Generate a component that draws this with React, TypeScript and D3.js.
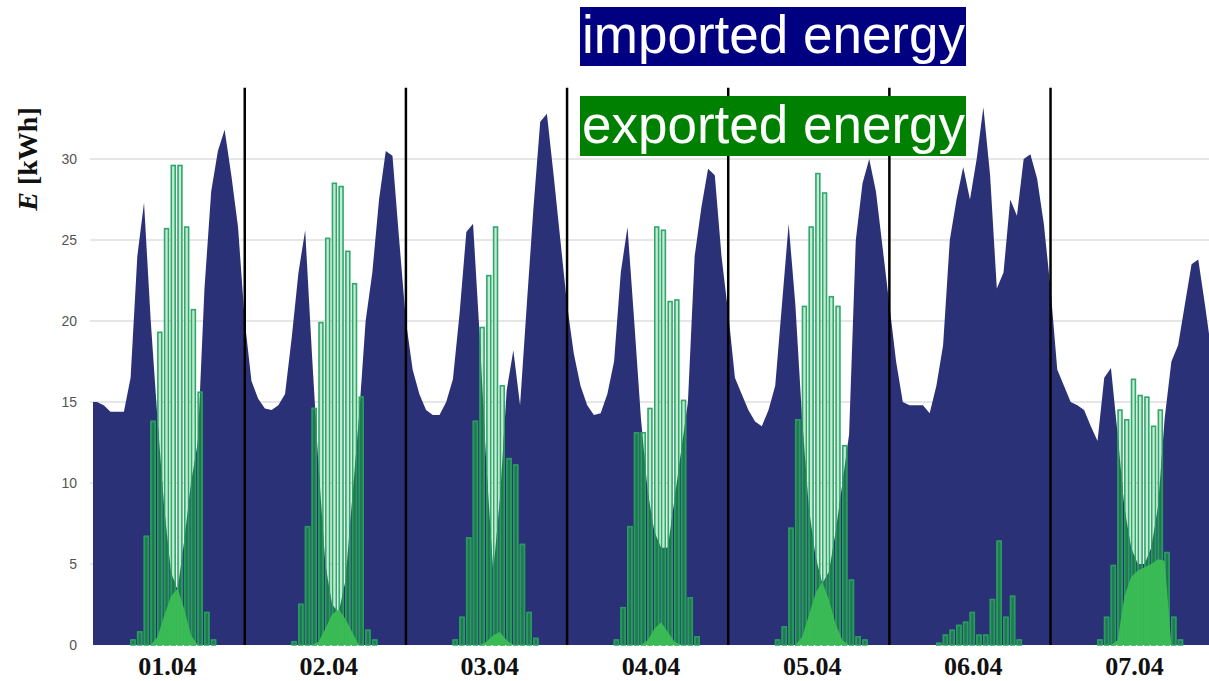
import React from 'react';
import * as d3 from 'd3';

const W = 1209;
const H = 681;

const dayLabels = ['01.04', '02.04', '03.04', '04.04', '05.04', '06.04', '07.04'];

// imported energy [kWh], hours 1..24 of each day
const imp01 = [15.0, 15.0, 14.8, 14.4, 14.4, 14.4, 16.5, 24.0, 27.3, 20.0, 14.0, 8.5, 4.5, 3.4, 6.5, 10.0, 12.5, 22.0, 28.0, 30.5, 31.8, 29.0, 25.8, 20.0];
const imp02 = [16.3, 15.2, 14.6, 14.5, 14.8, 15.5, 19.0, 23.0, 25.6, 18.0, 11.0, 5.0, 2.5, 2.0, 4.0, 9.0, 14.0, 20.0, 23.0, 27.5, 30.5, 30.2, 25.0, 20.0];
const imp03 = [17.0, 15.5, 14.5, 14.2, 14.2, 15.0, 16.4, 20.5, 25.5, 26.0, 19.0, 11.0, 4.5, 9.0, 15.7, 18.2, 14.8, 21.0, 27.0, 32.3, 32.8, 29.0, 25.0, 21.0];
const imp04 = [18.0, 16.0, 14.8, 14.2, 14.3, 15.5, 17.5, 23.0, 25.8, 20.0, 14.0, 9.5, 7.0, 6.0, 6.0, 9.0, 12.0, 15.0, 24.0, 27.0, 29.4, 29.0, 24.0, 20.5];
const imp05 = [16.5, 15.5, 14.5, 13.8, 13.5, 14.5, 16.0, 21.0, 26.0, 21.0, 14.0, 8.5, 5.5, 3.8, 4.5, 7.0, 10.0, 13.0, 25.0, 28.5, 30.0, 28.0, 24.5, 21.0];
const imp06 = [17.5, 15.0, 14.8, 14.8, 14.8, 14.3, 16.0, 18.5, 25.0, 27.5, 29.5, 27.5, 30.0, 33.2, 29.0, 22.0, 23.0, 27.5, 26.5, 30.0, 30.3, 28.8, 26.0, 22.0];
const imp07 = [17.0, 16.0, 15.0, 14.8, 14.5, 13.5, 12.6, 16.5, 17.1, 13.0, 8.5, 6.0, 5.0, 5.0, 6.0, 8.5, 14.0, 17.5, 18.5, 21.0, 23.5, 23.8, 21.0, 18.0];
const importedDays = [imp01, imp02, imp03, imp04, imp05, imp06, imp07];

// exported energy [kWh], hours 7..20 of each day
const exportStart = 7;
const exp01 = [0.3, 0.8, 6.7, 13.8, 19.3, 25.7, 29.6, 29.6, 25.8, 20.7, 15.6, 2.0, 0.3, 0];
const exp02 = [0.2, 2.5, 7.3, 14.6, 19.9, 25.1, 28.5, 28.3, 24.3, 22.3, 15.3, 0.9, 0.3, 0];
const exp03 = [0.3, 1.7, 6.6, 13.8, 19.6, 22.8, 25.8, 16.0, 11.5, 11.1, 6.2, 2.0, 0.4, 0];
const exp04 = [0.3, 2.3, 7.3, 13.1, 13.1, 14.6, 25.8, 25.6, 21.2, 21.3, 15.1, 2.9, 0.5, 0];
const exp05 = [0.3, 1.1, 7.2, 13.9, 20.9, 25.8, 29.1, 27.9, 21.5, 20.9, 12.3, 4.0, 0.5, 0.3];
const exp06 = [0.1, 0.6, 0.9, 1.2, 1.4, 2.0, 0.6, 0.6, 2.8, 6.4, 1.7, 3.0, 0.3, 0];
const exp07 = [0.3, 1.7, 4.9, 14.5, 13.9, 16.4, 15.4, 15.3, 13.5, 14.5, 5.7, 1.7, 0.3, 0];
const exportDays = [exp01, exp02, exp03, exp04, exp05, exp06, exp07];

// self-consumed PV energy [kWh], hours 9..18 of each day
const selfStart = 9;
const self01 = [0, 0, 0.5, 1.8, 3.0, 3.5, 2.2, 0.6, 0, 0];
const self02 = [0, 0, 0.2, 1.0, 1.9, 2.2, 1.6, 0.8, 0, 0];
const self03 = [0, 0, 0, 0.2, 0.6, 0.8, 0.3, 0, 0, 0];
const self04 = [0, 0, 0, 0.3, 1.0, 1.4, 0.8, 0.2, 0, 0];
const self05 = [0, 0, 0.5, 1.8, 3.2, 3.9, 2.8, 1.3, 0.3, 0];
const self06 = [0, 0, 0, 0, 0, 0, 0, 0, 0, 0];
const self07 = [0, 0.3, 3.0, 4.2, 4.6, 4.8, 5.0, 5.3, 5.2, 0];
const selfDays = [self01, self02, self03, self04, self05, self06, self07];

const yTicks = [0, 5, 10, 15, 20, 25, 30];
const dayBreaks = [24, 48, 72, 96, 120, 144];

type Pt = { h: number; v: number };

const imported: Pt[] = importedDays.flatMap((day, d) => day.map((v, i) => ({ h: d * 24 + i + 1, v })));
const exported: Pt[] = exportDays
  .flatMap((day, d) => day.map((v, i) => ({ h: d * 24 + exportStart + i, v })))
  .filter(p => p.v > 0);
const selfUsed: Pt[][] = selfDays.map((day, d) => day.map((v, i) => ({ h: d * 24 + selfStart + i, v })));

export default function App() {
  const x = d3.scaleLinear().domain([1.4, 167.6]).range([93, W]);
  const y = d3.scaleLinear().domain([0, 30]).range([645, 159]);
  const yTop = 34.4;

  const area = d3.area<Pt>()
    .x(d => x(d.h))
    .y0(y(0))
    .y1(d => y(d.v));

  const step = x(1) - x(0);
  const barW = step * 0.58;
  const barShift = 0.35; // bars sit a bit right of the hour mark

  const bars = (fill: string, stroke: string) =>
    exported.map((p, i) => (
      <rect
        key={i}
        x={x(p.h + barShift) - barW / 2}
        y={y(p.v)}
        width={barW}
        height={y(0) - y(p.v)}
        fill={fill}
        stroke={stroke}
        strokeWidth={1.6}
      />
    ));

  const importedPath = area(imported) || '';

  return (
    <div style={{ position: 'fixed', left: 0, top: 0, width: W, height: H, background: '#fff' }}>
      <svg width={W} height={H} style={{ display: 'block' }}>
        <defs>
          <clipPath id="plot">
            <rect x={x(1.4)} y={0} width={W - x(1.4)} height={y(0) + 1} />
          </clipPath>
          <clipPath id="navy">
            <path d={importedPath} />
          </clipPath>
        </defs>

        {/* grid */}
        {yTicks.filter(t => t > 0).map(t => (
          <line key={t} x1={x(1.4) - 3} x2={W} y1={y(t)} y2={y(t)} stroke="#e6e6e6" strokeWidth={2} />
        ))}

        {/* y tick labels */}
        {yTicks.map(t => (
          <text
            key={t}
            x={77}
            y={y(t)}
            dy="0.35em"
            textAnchor="end"
            fontFamily="'Liberation Sans', Arial, sans-serif"
            fontSize={14}
            fill="#555"
          >
            {t}
          </text>
        ))}

        <g clipPath="url(#plot)">
          {/* imported energy */}
          <path d={importedPath} fill="#2b3177" />

          {/* exported energy bars, pale above the import area */}
          <g>{bars('#c3ead3', '#2fa86a')}</g>
          {/* same bars, dark where they overlap the import area */}
          <g clipPath="url(#navy)">{bars('#1d7a4e', '#2a9a60')}</g>

          {/* self-consumed */}
          {selfUsed.map((s, i) => (
            <path key={i} d={area(s) || ''} fill="#3cbf55" fillOpacity={0.92} />
          ))}
        </g>

        {/* day separators */}
        {dayBreaks.map(h => (
          <line key={h} x1={x(h)} x2={x(h)} y1={y(yTop)} y2={y(0)} stroke="#000" strokeWidth={2.5} />
        ))}

        {/* day labels */}
        {dayLabels.map((lab, i) => (
          <text
            key={lab}
            x={x(i * 24 + 12.5)}
            y={675}
            textAnchor="middle"
            fontFamily="'Liberation Serif', 'Times New Roman', serif"
            fontWeight="bold"
            fontSize={26}
            fill="#111"
          >
            {lab}
          </text>
        ))}

        {/* y axis title */}
        <text
          transform={`translate(37, ${y(30)}) rotate(-90)`}
          textAnchor="middle"
          fontFamily="'Liberation Serif', 'Times New Roman', serif"
          fontWeight="bold"
          fontSize={28}
          fill="#111"
        >
          <tspan fontStyle="italic">E</tspan> [kWh]
        </text>

        {/* legend */}
        <rect x={580} y={7} width={386} height={59} fill="#000080" />
        <text x={582} y={53} fontFamily="'Liberation Sans', Arial, sans-serif" fontSize={53} fill="#fff">
          imported energy
        </text>
        <rect x={580} y={96} width={386} height={60} fill="#008000" />
        <text x={582} y={143} fontFamily="'Liberation Sans', Arial, sans-serif" fontSize={53} fill="#fff">
          exported energy
        </text>
      </svg>
    </div>
  );
}
